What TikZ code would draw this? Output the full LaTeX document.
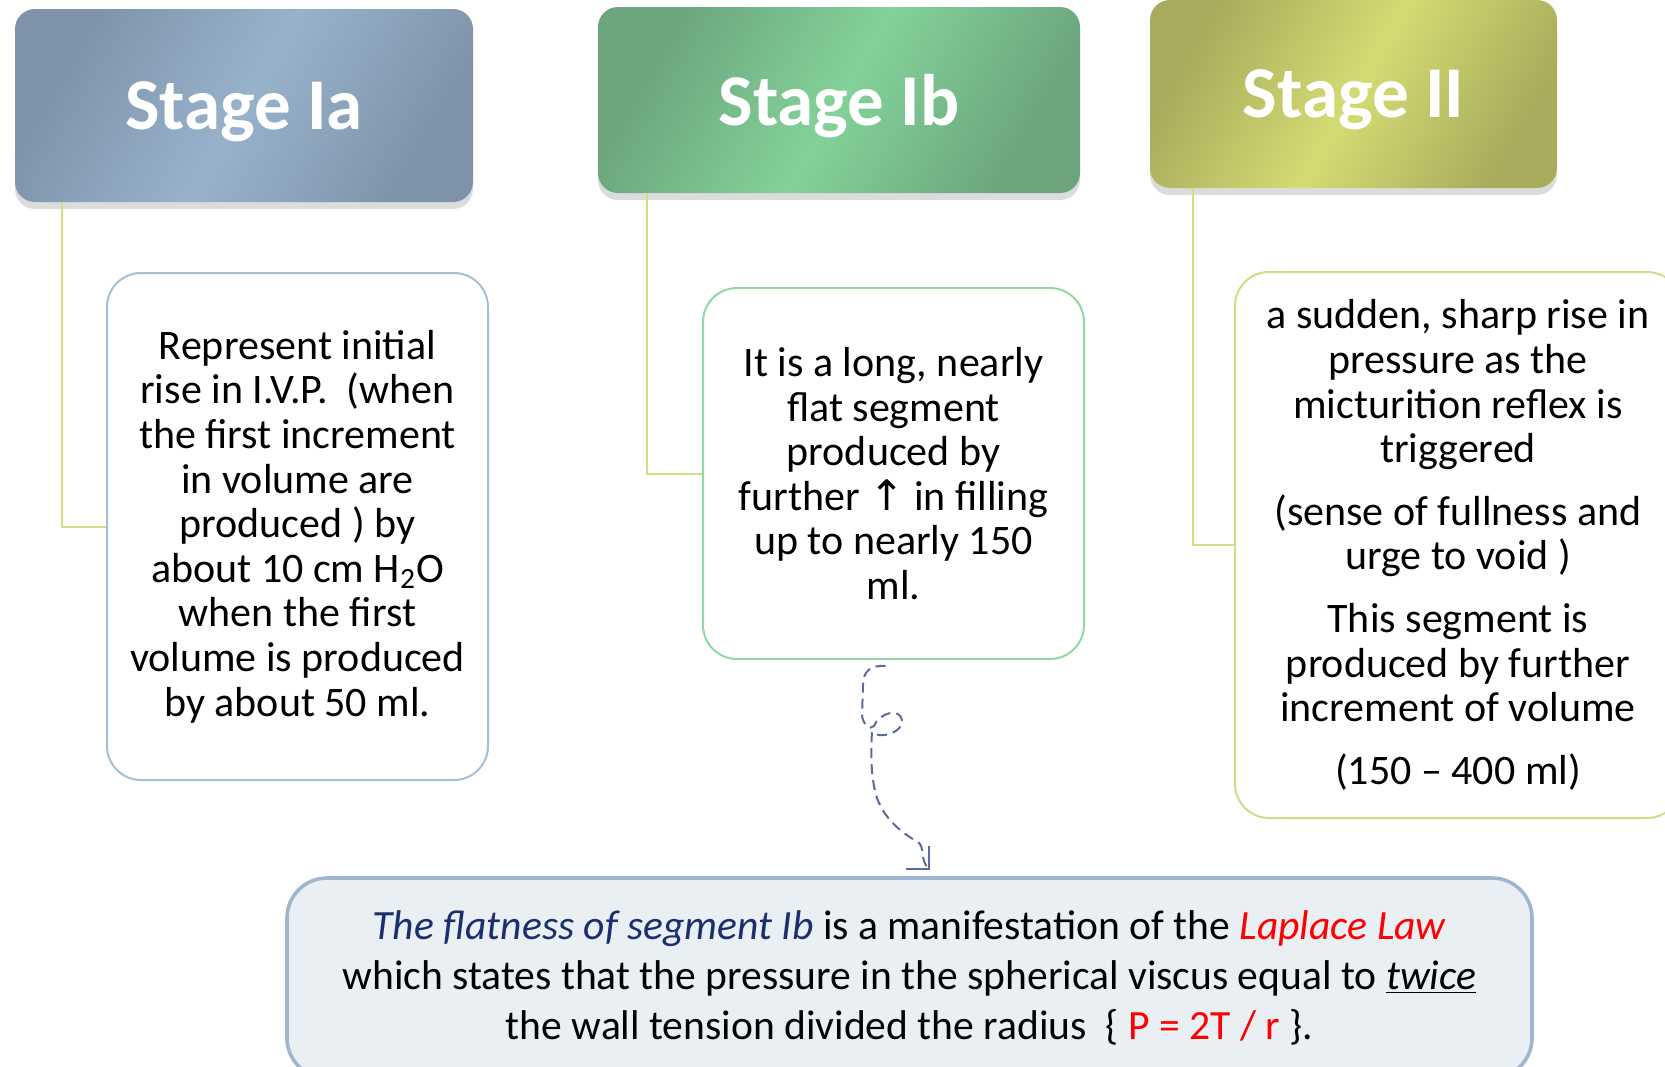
\documentclass[tikz,border=0pt]{standalone}
\usepackage{fontspec}
\setmainfont{Carlito}
\newfontfamily\symfont{DejaVu Sans}
\usetikzlibrary{shadows,arrows.meta}

\definecolor{iadark}{HTML}{7E93A9}
\definecolor{ialight}{HTML}{98B2CC}
\definecolor{ibdark}{HTML}{6CA47D}
\definecolor{iblight}{HTML}{83D29A}
\definecolor{iidark}{HTML}{A8AC5C}
\definecolor{iilight}{HTML}{D4DB73}
\definecolor{iaborder}{HTML}{A6BED8}
\definecolor{ibborder}{HTML}{92D8A3}
\definecolor{iiborder}{HTML}{D3DB88}
\definecolor{linkgreen}{HTML}{D4DC84}
\definecolor{curlblue}{HTML}{5B6A9E}
\definecolor{lawfill}{HTML}{EAEFF4}
\definecolor{lawborder}{HTML}{A0B6CE}
\definecolor{lawblue}{HTML}{1B2F6E}

\begin{document}
\begin{tikzpicture}[x=0.5pt,y=-0.5pt,
  stage box/.style={rounded corners=10pt, text=white, text depth=0pt,
    font=\fontsize{36.5}{40}\selectfont\bfseries,
    top color=#1dark, bottom color=#1dark, middle color=#1light, shading angle=60,
    drop shadow={shadow xshift=0pt, shadow yshift=-3.5pt, opacity=0.28}},
  body box/.style={draw, line width=1pt, fill=white, rounded corners=17pt,
    align=center, font=\fontsize{21}{22.3}\selectfont},
  link/.style={draw=linkgreen, line width=1pt},
  curl/.style={draw=curlblue, line width=1pt, dash pattern=on 5pt off 3pt,
    -{Straight Barb[length=8pt,width=16pt]}}]
\useasboundingbox (0,0) rectangle (1665,1066);

% stage headers
\node[stage box=ia, minimum width=229pt, minimum height=96.5pt] (1) at (244,105.5) {Stage Ia};
\node[stage box=ib, minimum width=241pt, minimum height=93pt] (2) at (839,100) {Stage Ib};
\node[stage box=ii, minimum width=203.5pt, minimum height=94pt] (3) at (1353.5,94) {Stage II};

% descriptions
\node[body box, draw=iaborder, minimum width=190.5pt, minimum height=253.5pt] (4) at (297.5,526.5)
  {Represent initial\\ rise in I.V.P.\ \ (when\\ the first increment\\ in volume are\\ produced ) by\\
   about 10 cm H\textsubscript{2}O\\ when the first\\ volume is produced\\ by about 50 ml.};
\node[body box, draw=ibborder, minimum width=190.5pt, minimum height=185.5pt] (5) at (893.5,473.5)
  {It is a long, nearly\\ flat segment\\ produced by\\ further {\symfont ↑} in filling\\ up to nearly 150\\ ml.};
\node[body box, draw=iiborder, minimum width=223pt, minimum height=273pt] (6) at (1458,545)
  {a sudden, sharp rise in\\ pressure as the\\ micturition reflex is\\ triggered\\[9pt]
   (sense of fullness and\\ urge to void )\\[9pt]
   This segment is\\ produced by further\\ increment of volume\\[9pt]
   (150 -- 400 ml)};

% Laplace note
\node[body box, draw=lawborder, fill=lawfill, line width=1.8pt, rounded corners=20pt,
  font=\fontsize{20.8}{25}\selectfont, minimum width=622.5pt, minimum height=100pt] (7) at (909.5,978)
  {\textcolor{lawblue}{\textit{The flatness of segment Ib}} is a manifestation of the \textcolor{red}{\textit{Laplace Law}}\\
   which states that the pressure in the spherical viscus equal to \underline{\textit{twice}}\\
   the wall tension divided the radius\ \ \{ \textcolor{red}{P = 2T / r} \}.};

\draw[link] ([xshift=23.5pt]1.south west) |- (4.west);
\draw[link] ([xshift=24.5pt]2.south west) |- (5.west);
\draw[link] ([xshift=21.5pt]3.south west) |- (6.west);

\coordinate (tip) at (930,870);
\draw[curl] ([xshift=-4pt,yshift=-3pt]5.south) .. controls (872,665) and (863,670) .. (863,685)
  -- (862,716) .. controls (864,726) and (870,730) .. (874,726)
  .. controls (880,712) and (900,708) .. (902,720)
  .. controls (904,732) and (880,740) .. (872,732)
  .. controls (870,760) and (872,790) .. (880,805)
  .. controls (888,822) and (905,835) .. (918,842)
  .. controls (925,847) and (920,860) .. (tip);
\end{tikzpicture}
\end{document}
